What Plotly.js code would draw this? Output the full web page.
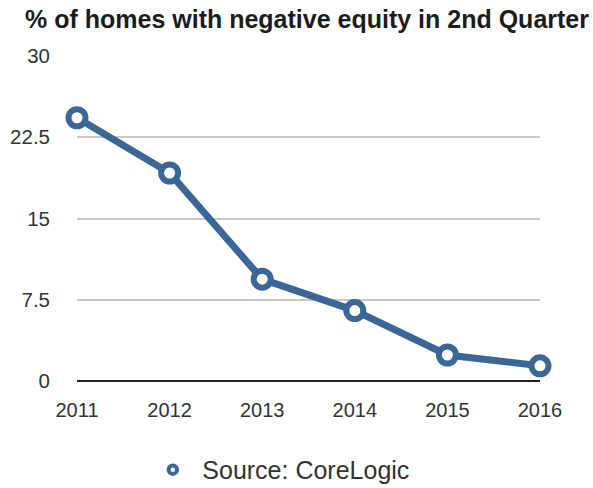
<!DOCTYPE html>
<html>
<head>
<meta charset="utf-8">
<script src="https://cdn.plot.ly/plotly-3.0.1.min.js"></script>
<style>html,body{margin:0;padding:0;background:#fff;}#chart{width:593px;height:488px;}</style>
</head>
<body>
<div id="chart"></div>
<script>
const years = [2011, 2012, 2013, 2014, 2015, 2016];
const negativeEquityPct = [24.3, 19.2, 9.4, 6.5, 2.4, 1.4];
const yTicks = [0, 7.5, 15, 22.5, 30];
const yTickLabels = ['0', '7.5', '15', '22.5', '30'];
const seriesName = 'Source: CoreLogic';
const chartTitle = '% of homes with negative equity in 2nd Quarter';

const lineColor = '#3a6796';
const fontFam = 'Liberation Sans, Arial, Helvetica, sans-serif';

Plotly.newPlot('chart', [{
  x: years,
  y: negativeEquityPct,
  type: 'scatter',
  mode: 'lines+markers',
  name: seriesName,
  showlegend: false,
  line: {color: lineColor, width: 7},
  marker: {symbol: 'circle', size: 17, color: '#ffffff', line: {color: lineColor, width: 6}},
  cliponaxis: false
}, {
  x: [null], y: [null],
  type: 'scatter', mode: 'markers', name: seriesName, showlegend: true,
  marker: {symbol: 'circle', size: 8.5, color: '#ffffff', line: {color: lineColor, width: 4}}
}], {
  width: 593, height: 488,
  paper_bgcolor: '#ffffff', plot_bgcolor: '#ffffff',
  margin: {l: 77, r: 53, t: 56, b: 106.5},
  title: {text: '<b>' + chartTitle + '</b>', x: 25 / 593, xref: 'container', xanchor: 'left', y: 0.96, yref: 'container', yanchor: 'middle',
    font: {family: fontFam, size: 25, color: '#1c1c1c'}},
  font: {family: fontFam, color: '#333333'},
  xaxis: {
    range: [2011, 2016], tickmode: 'array', tickvals: years, ticktext: years.map(String),
    showgrid: false, zeroline: false, showline: false, ticks: '',
    tickfont: {size: 20, color: '#333333'}, ticklabelstandoff: 15
  },
  yaxis: {
    range: [0, 30], tickmode: 'array', tickvals: yTicks, ticktext: yTickLabels,
    showgrid: true, gridcolor: '#c8c8c8', gridwidth: 2,
    zeroline: true, zerolinecolor: '#222222', zerolinewidth: 2,
    showline: false, ticks: '', tickfont: {size: 20.5, color: '#333333'}, ticklabelstandoff: 26
  },
  showlegend: true,
  legend: {orientation: 'h', x: 0.471, xanchor: 'center', xref: 'container', y: 0.037, yref: 'container', yanchor: 'middle',
    font: {size: 25, color: '#333333'}, itemwidth: 49}
}, {displayModeBar: false, staticPlot: true});
</script>
</body>
</html>
